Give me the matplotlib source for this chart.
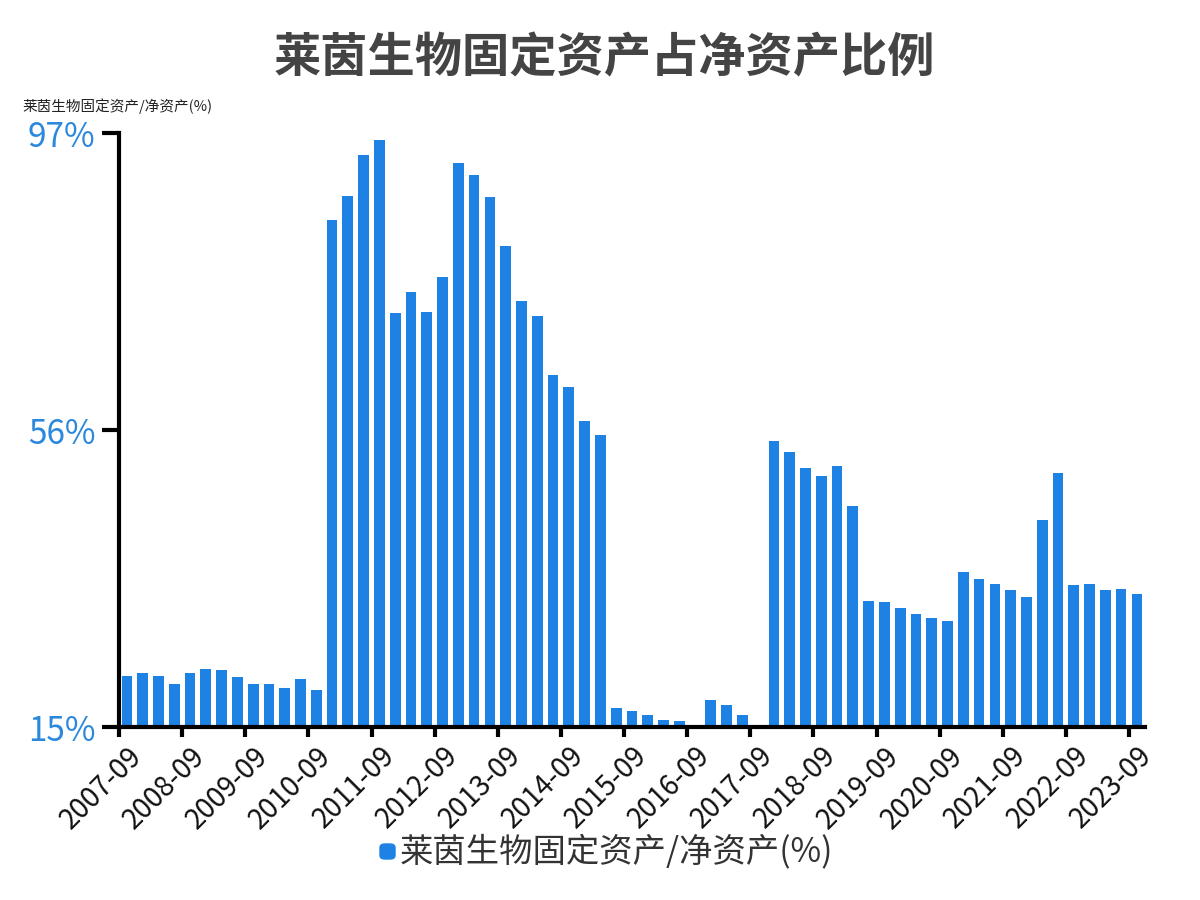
import numpy as np
import matplotlib
matplotlib.use("Agg")
import matplotlib.pyplot as plt
from matplotlib.patches import FancyBboxPatch

plt.rcParams['font.family'] = ['Noto Sans CJK SC', 'DejaVu Sans']

# quarterly periods 2007-09 .. 2023-09
quarters = []
for y in range(2007, 2024):
    for m in ["03", "06", "09", "12"]:
        if (y == 2007 and m in ("03", "06")) or (y == 2023 and m == "12"):
            continue
        quarters.append(f"{y}-{m}")

ratio = [
    22.1, 22.4, 22.0, 21.0, 22.5, 23.0, 22.9, 21.9, 21.0, 21.0, 20.4, 21.6, 20.1,
    85.0, 88.3, 93.9, 96.0, 72.1, 75.0, 72.3, 77.1, 92.9, 91.2, 88.2, 81.4, 73.8,
    71.7, 63.6, 62.0, 57.2, 55.3,
    17.6, 17.2, 16.7, 16.0, 15.8, 15.2, 18.7, 18.0, 16.6, 15.2,
    54.5, 52.9, 50.7, 49.7, 51.0, 45.5,
    32.4, 32.2, 31.4, 30.6, 30.0, 29.6,
    36.4, 35.5, 34.8, 33.9, 32.9, 43.6, 50.0,
    34.6, 34.7, 33.9, 34.0, 33.4,
]

y_ticks = [15, 56, 97]
y_tick_labels = ["15%", "56%", "97%"]

bar_color = "#1e82e4"
label_blue = "#2b88dc"

fig = plt.figure(figsize=(12, 9), dpi=100)
ax = fig.add_axes([0.0992, 0.1922, 0.8548, 0.66])

x = np.arange(len(quarters))
ax.bar(x, ratio, width=0.68, color=bar_color, zorder=2)

ax.set_xlim(-0.5, len(quarters) - 0.5)
ax.set_ylim(15, 97)

for s in ["top", "right"]:
    ax.spines[s].set_visible(False)
ax.spines["left"].set_linewidth(3)
ax.spines["bottom"].set_linewidth(3)
ax.spines["left"].set_zorder(3)
ax.spines["bottom"].set_zorder(3)

ax.set_yticks(y_ticks)
ax.set_yticklabels(y_tick_labels, color=label_blue, fontsize=24)
ax.tick_params(axis="y", length=12, width=3, pad=5)

# labels at band centres, tick marks on band boundaries
label_idx = [i for i, q in enumerate(quarters) if q.endswith("-09")]
ax.set_xticks(label_idx)
ax.set_xticklabels([quarters[i] for i in label_idx], rotation=45, ha="right",
                   rotation_mode="anchor", fontsize=20, color="#111111")
ax.tick_params(axis="x", which="major", length=0, pad=10)
ax.set_xticks([i - 0.5 for i in label_idx], minor=True)
ax.tick_params(axis="x", which="minor", length=7, width=3)

fig.text(0.504, 0.935, "莱茵生物固定资产占净资产比例", ha="center", va="center",
         fontsize=34, fontweight="bold", color="#444444")
fig.text(0.019, 0.882, "莱茵生物固定资产/净资产(%)", ha="left", va="center",
         fontsize=10.5, color="#222222")

# legend
fig.patches.append(FancyBboxPatch((380 / 1200, 1 - 859 / 900), 15 / 1200, 15 / 900,
                                  boxstyle="round,pad=0,rounding_size=0.004",
                                  transform=fig.transFigure, color=bar_color))
fig.text(400 / 1200, 1 - 852 / 900, "莱茵生物固定资产/净资产(%)", ha="left", va="center",
         fontsize=24, color="#333333")

fig.savefig("out.png", dpi=100)
